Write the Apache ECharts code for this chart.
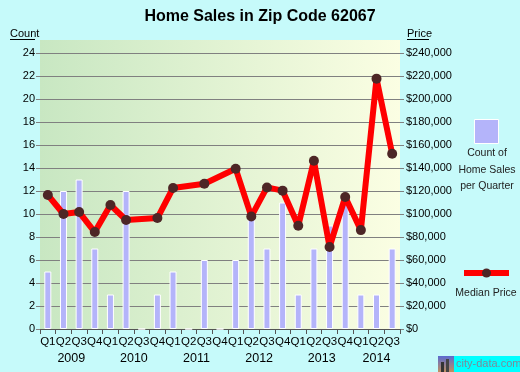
<!DOCTYPE html>
<html>
<head>
<meta charset="utf-8">
<script src="https://cdn.jsdelivr.net/npm/echarts@6/dist/echarts.min.js"></script>
<style>
html,body{margin:0;padding:0;background:#c6fafa;}
#c{width:520px;height:372px;}
</style>
</head>
<body>
<div id="c"></div>
<script>
var quarters = ['2009 Q1','2009 Q2','2009 Q3','2009 Q4','2010 Q1','2010 Q2','2010 Q3','2010 Q4','2011 Q1','2011 Q2','2011 Q3','2011 Q4','2012 Q1','2012 Q2','2012 Q3','2012 Q4','2013 Q1','2013 Q2','2013 Q3','2013 Q4','2014 Q1','2014 Q2','2014 Q3'];
var salesCount = [5,12,13,7,3,12,0,3,5,0,6,0,6,10,7,11,3,7,9,11,3,3,7];
var medianPrice = [116500,100000,101700,84300,107800,94800,null,96500,122600,null,126300,null,139400,97900,123100,120300,89800,146300,71300,114800,86000,217700,152400];
var countTicks = {min:0, max:24, interval:2};
var priceTicks = {min:0, max:240000, interval:20000};

var FONT = '"Liberation Sans",Arial,sans-serif';

// year groups derived from quarter categories
var years = [], yearCenters = [];
(function(){
  var start = 0;
  for (var i = 0; i <= quarters.length; i++) {
    var y = i < quarters.length ? quarters[i].split(' ')[0] : null;
    var prev = i > 0 ? quarters[i-1].split(' ')[0] : null;
    if (i > 0 && y !== prev) {
      years.push(prev);
      yearCenters.push(start + (i - start) / 2);
      start = i;
    }
  }
})();

var chart = echarts.init(document.getElementById('c'), null, {renderer:'canvas'});
var option = {
  backgroundColor: '#c6fafa',
  animation: false,
  title: {
    text: 'Home Sales in Zip Code 62067',
    left: 'center', top: 4,
    textStyle: {fontFamily:FONT, fontWeight:'bold', fontSize:16, color:'#000'}
  },
  grid: {left:40, right:120, top:53, bottom:43},
  xAxis: [{
    type:'category',
    data: quarters,
    axisLine:{show:true, lineStyle:{color:'#555', width:1}},
    axisTick:{show:true, length:5, lineStyle:{color:'#555'}},
    axisLabel:{
      margin:7, fontFamily:FONT, fontSize:11.5, color:'#000',
      interval:0,
      formatter:function(v){return v.split(' ')[1];}
    },
    splitLine:{show:false}
  },{
    type:'value',
    position:'bottom',
    min:0, max:quarters.length,
    axisLine:{show:false},
    axisTick:{show:false},
    splitLine:{show:false},
    axisLabel:{
      show:true, margin:23, fontFamily:FONT, fontSize:12.5, color:'#000',
      customValues: yearCenters,
      formatter:function(v){
        for (var i=0;i<yearCenters.length;i++){ if (Math.abs(yearCenters[i]-v)<1e-6) return years[i]; }
        return '';
      }
    }
  }],
  yAxis: [{
    type:'value',
    min:countTicks.min, max:countTicks.max, interval:countTicks.interval,
    axisLine:{show:false},
    axisTick:{show:true, length:4, lineStyle:{color:'#808080'}},
    axisLabel:{margin:5, fontFamily:FONT, fontSize:11, color:'#000'},
    splitLine:{show:true, lineStyle:{color:'#808080', width:1}}
  },{
    type:'value',
    min:priceTicks.min, max:priceTicks.max, interval:priceTicks.interval,
    position:'right',
    axisLine:{show:false},
    axisTick:{show:true, length:4, lineStyle:{color:'#808080'}},
    axisLabel:{margin:6, fontFamily:FONT, fontSize:11, color:'#000',
      formatter:function(v){return '$' + v.toString().replace(/\B(?=(\d{3})+(?!\d))/g, ',');}},
    splitLine:{show:false}
  }],
  series: [{
    type:'bar',
    name:'Count of Home Sales per Quarter',
    data: salesCount,
    xAxisIndex:0, yAxisIndex:0,
    barWidth:7,
    itemStyle:{color:'#b4b4fa', borderColor:'#ffffff', borderWidth:1},
    z:2
  },{
    type:'line',
    name:'Median Price',
    data: medianPrice,
    xAxisIndex:0, yAxisIndex:1,
    connectNulls:true,
    symbol:'circle', symbolSize:10,
    lineStyle:{color:'#ff0000', width:6},
    itemStyle:{color:'#4d2626', borderWidth:0},
    z:3
  }],
  graphic: {elements: [
    {type:'rect', z:-10, shape:{x:40, y:40, width:360, height:289},
     style:{fill:new echarts.graphic.LinearGradient(0,0,1,0,[{offset:0,color:'#c8e7c2'},{offset:1,color:'#fbfee3'}])}},
    {type:'text', x:10, y:34, style:{text:'Count', fontFamily:FONT, fontSize:11, fill:'#000', verticalAlign:'middle'}},
    {type:'line', shape:{x1:10, y1:39.5, x2:35, y2:39.5}, style:{stroke:'#000', lineWidth:1}},
    {type:'text', x:407, y:34, style:{text:'Price', fontFamily:FONT, fontSize:11, fill:'#000', verticalAlign:'middle'}},
    {type:'line', shape:{x1:407, y1:39.5, x2:429, y2:39.5}, style:{stroke:'#000', lineWidth:1}},
    {type:'rect', shape:{x:474.5, y:119.5, width:24, height:24}, style:{fill:'#b4b4fa', stroke:'#ffffff', lineWidth:1}},
    {type:'text', x:487, y:153, style:{text:'Count of', fontFamily:FONT, fontSize:10.5, fill:'#222', align:'center', verticalAlign:'middle'}},
    {type:'text', x:487, y:170, style:{text:'Home Sales', fontFamily:FONT, fontSize:10.5, fill:'#222', align:'center', verticalAlign:'middle'}},
    {type:'text', x:487, y:186, style:{text:'per Quarter', fontFamily:FONT, fontSize:10.5, fill:'#222', align:'center', verticalAlign:'middle'}},
    {type:'line', shape:{x1:464, y1:273, x2:509, y2:273}, style:{stroke:'#ff0000', lineWidth:6}},
    {type:'circle', shape:{cx:486.5, cy:273, r:4.5}, style:{fill:'#4d2626'}},
    {type:'text', x:486, y:293, style:{text:'Median Price', fontFamily:FONT, fontSize:10.5, fill:'#222', align:'center', verticalAlign:'middle'}},
    {type:'rect', shape:{x:438, y:356, width:16, height:16}, style:{fill:new echarts.graphic.LinearGradient(0,0,0,1,[{offset:0,color:'#5a6ad0'},{offset:1,color:'#c09060'}])}},
    {type:'rect', shape:{x:441, y:362, width:3, height:10}, style:{fill:'#333'}},
    {type:'rect', shape:{x:446, y:359, width:3, height:13}, style:{fill:'#444'}},
    {type:'rect', shape:{x:454, y:356, width:66, height:16}, style:{fill:'#00ffff'}},
    {type:'text', x:456, y:364, style:{text:'city-data.com', fontFamily:FONT, fontSize:11, fill:'#7a8a9a', verticalAlign:'middle'}}
  ]}
};
chart.setOption(option);
</script>
</body>
</html>
